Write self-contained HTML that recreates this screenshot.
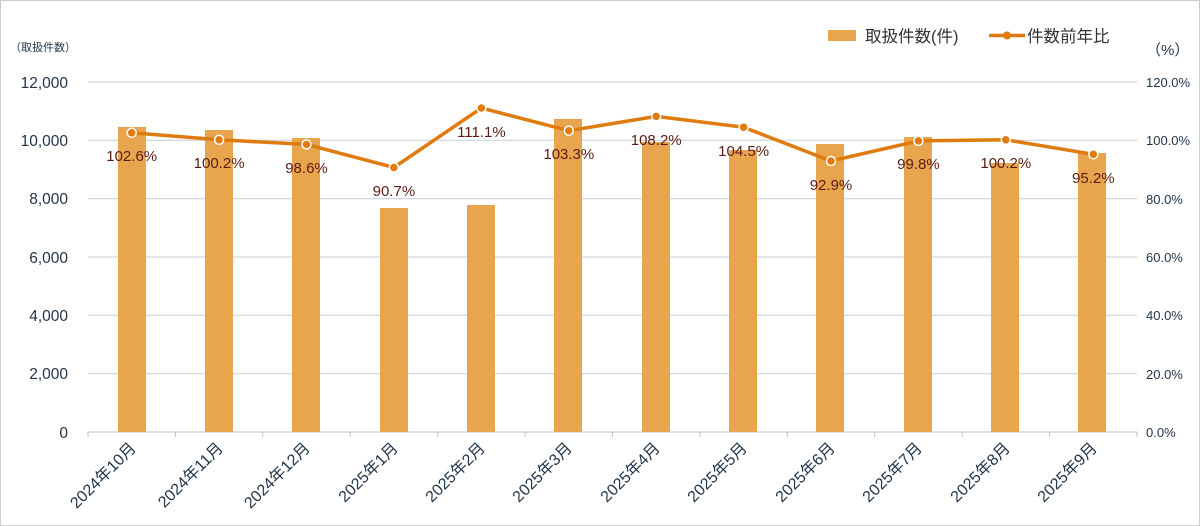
<!DOCTYPE html>
<html><head><meta charset="utf-8"><style>
html,body{margin:0;padding:0;background:#fff;}
svg{display:block;font-family:"Liberation Sans","Noto Sans CJK JP",sans-serif;}
</style></head><body>
<svg width="1200" height="526" viewBox="0 0 1200 526">
<rect x="0.5" y="0.5" width="1199" height="525" fill="#fff" stroke="#c8cdd2"/>
<g stroke="#c5cdd4" stroke-width="1">
<line x1="88" y1="82" x2="1137" y2="82"/>
<line x1="88" y1="140.3" x2="1137" y2="140.3"/>
<line x1="88" y1="198.7" x2="1137" y2="198.7"/>
<line x1="88" y1="257" x2="1137" y2="257"/>
<line x1="88" y1="315.3" x2="1137" y2="315.3"/>
<line x1="88" y1="373.7" x2="1137" y2="373.7"/>
</g>
<line x1="88" y1="432" x2="1137" y2="432" stroke="#b8c0c8"/>
<g stroke="#b8c0c8">
<line x1="88" y1="432" x2="88" y2="437"/><line x1="175.4" y1="432" x2="175.4" y2="437"/><line x1="262.8" y1="432" x2="262.8" y2="437"/><line x1="350.2" y1="432" x2="350.2" y2="437"/><line x1="437.7" y1="432" x2="437.7" y2="437"/><line x1="525.1" y1="432" x2="525.1" y2="437"/><line x1="612.5" y1="432" x2="612.5" y2="437"/><line x1="699.9" y1="432" x2="699.9" y2="437"/><line x1="787.3" y1="432" x2="787.3" y2="437"/><line x1="874.7" y1="432" x2="874.7" y2="437"/><line x1="962.2" y1="432" x2="962.2" y2="437"/><line x1="1049.6" y1="432" x2="1049.6" y2="437"/><line x1="1137" y1="432" x2="1137" y2="437"/>
</g>
<g fill="#1f3347" font-size="15.5" text-anchor="end">
<text x="68" y="88">12,000</text><text x="68" y="146">10,000</text><text x="68" y="204">8,000</text><text x="68" y="263">6,000</text><text x="68" y="321">4,000</text><text x="68" y="379">2,000</text><text x="68" y="438">0</text>
</g>
<g fill="#1f3347" font-size="13" text-anchor="start">
<text x="1146" y="87">120.0%</text><text x="1146" y="145">100.0%</text><text x="1146" y="204">80.0%</text><text x="1146" y="262">60.0%</text><text x="1146" y="320">40.0%</text><text x="1146" y="379">20.0%</text><text x="1146" y="437">0.0%</text>
</g>
<text x="10" y="51" font-size="11" fill="#1f3347">（取扱件数）</text>
<text x="1146" y="55" font-size="15" fill="#1f3347">（%）</text>
<g fill="#e9a54d">
<rect x="118" y="127" width="28" height="305"/>
<rect x="205" y="130" width="28" height="302"/>
<rect x="292" y="138" width="28" height="294"/>
<rect x="380" y="208" width="28" height="224"/>
<rect x="467" y="205" width="28" height="227"/>
<rect x="554" y="119" width="28" height="313"/>
<rect x="642" y="142" width="28" height="290"/>
<rect x="729" y="150" width="28" height="282"/>
<rect x="816" y="144" width="28" height="288"/>
<rect x="904" y="137" width="28" height="295"/>
<rect x="991" y="163" width="28" height="269"/>
<rect x="1078" y="153" width="28" height="279"/>
</g>
<polyline fill="none" stroke="#e07b10" stroke-width="3.5" stroke-linejoin="round" points="131.7,132.8 219.1,139.8 306.5,144.4 393.9,167.5 481.4,108 568.8,130.7 656.2,116.4 743.6,127.2 831,161 918.4,140.9 1005.8,139.8 1093.3,154.3"/>
<g fill="#e07b10" stroke="#fff" stroke-width="1.5">
<circle cx="131.7" cy="132.8" r="4.5"/><circle cx="219.1" cy="139.8" r="4.5"/><circle cx="306.5" cy="144.4" r="4.5"/><circle cx="393.9" cy="167.5" r="4.5"/><circle cx="481.4" cy="108" r="4.5"/><circle cx="568.8" cy="130.7" r="4.5"/><circle cx="656.2" cy="116.4" r="4.5"/><circle cx="743.6" cy="127.2" r="4.5"/><circle cx="831" cy="161" r="4.5"/><circle cx="918.4" cy="140.9" r="4.5"/><circle cx="1005.8" cy="139.8" r="4.5"/><circle cx="1093.3" cy="154.3" r="4.5"/>
</g>
<g fill="#5a1c14" font-size="15" text-anchor="middle">
<text x="131.7" y="161">102.6%</text><text x="219.1" y="168">100.2%</text><text x="306.5" y="173">98.6%</text><text x="393.9" y="196">90.7%</text><text x="481.4" y="137">111.1%</text><text x="568.8" y="159">103.3%</text><text x="656.2" y="145">108.2%</text><text x="743.6" y="156">104.5%</text><text x="831" y="190">92.9%</text><text x="918.4" y="169">99.8%</text><text x="1005.8" y="168">100.2%</text><text x="1093.3" y="183">95.2%</text>
</g>
<g fill="#1f3347" font-size="16" text-anchor="end">
<text transform="translate(137,449) rotate(-45)">2024年10月</text>
<text transform="translate(224,449) rotate(-45)">2024年11月</text>
<text transform="translate(311,449) rotate(-45)">2024年12月</text>
<text transform="translate(399,449) rotate(-45)">2025年1月</text>
<text transform="translate(486,449) rotate(-45)">2025年2月</text>
<text transform="translate(573,449) rotate(-45)">2025年3月</text>
<text transform="translate(661,449) rotate(-45)">2025年4月</text>
<text transform="translate(748,449) rotate(-45)">2025年5月</text>
<text transform="translate(836,449) rotate(-45)">2025年6月</text>
<text transform="translate(923,449) rotate(-45)">2025年7月</text>
<text transform="translate(1011,449) rotate(-45)">2025年8月</text>
<text transform="translate(1098,449) rotate(-45)">2025年9月</text>
</g>
<rect x="828" y="30" width="28" height="11" fill="#e9a54d"/>
<text x="865" y="42" font-size="16.5" fill="#333">取扱件数(件)</text>
<line x1="989" y1="35.5" x2="1025" y2="35.5" stroke="#e07b10" stroke-width="3.5"/>
<circle cx="1007" cy="35.5" r="4" fill="#e07b10"/>
<text x="1027" y="42" font-size="16.5" fill="#333">件数前年比</text>
</svg>
</body></html>
